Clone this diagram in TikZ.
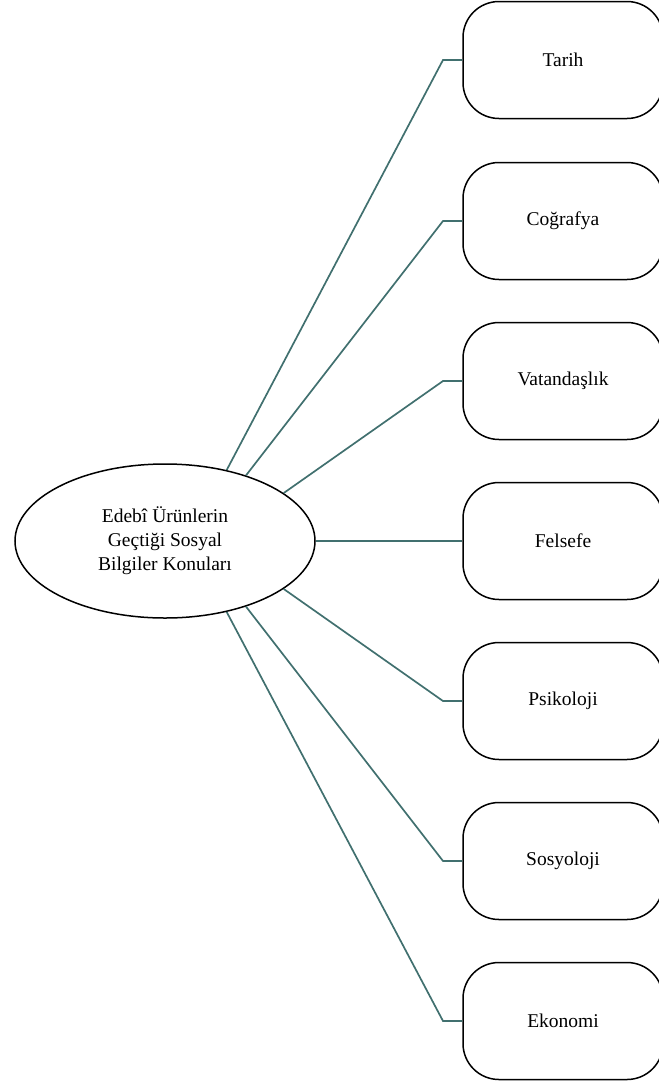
\documentclass[tikz,border=0pt]{standalone}
\usepackage{fontspec}
\setmainfont{Liberation Serif}
\usepackage{tikz}
\usetikzlibrary{shapes.geometric}
\definecolor{hat}{HTML}{41706F}

\begin{document}
\begin{tikzpicture}[x=1pt,y=-1pt,
	konu/.style={draw=black,line width=1.5pt,rounded corners=36pt,minimum width=200pt,minimum height=117pt,inner sep=0pt,font=\fontsize{19.5}{22}\selectfont},
	baglanti/.style={draw=hat,line width=1.7pt}]
	
	\useasboundingbox (0,0) rectangle (659,1085);
	
	\node[shape=ellipse,draw=black,line width=1.5pt,minimum width=300pt,minimum height=154pt,inner sep=0pt,align=center,font=\fontsize{19.5}{24}\selectfont] (merkez) at (165,541) {Edebî Ürünlerin\\Geçtiği Sosyal\\Bilgiler Konuları};
	
	\node[konu] (tarih) at (563,60)     {Tarih};
	\node[konu] (cografya) at (563,221) {Coğrafya};
	\node[konu] (vatandas) at (563,381) {Vatandaşlık};
	\node[konu] (felsefe) at (563,541)  {Felsefe};
	\node[konu] (psikoloji) at (563,701) {Psikoloji};
	\node[konu] (sosyoloji) at (563,861) {Sosyoloji};
	\node[konu] (ekonomi) at (563,1021) {Ekonomi};
	
	\coordinate (k1) at (443,60);
	\coordinate (k2) at (443,221);
	\coordinate (k3) at (443,381);
	\coordinate (k5) at (443,701);
	\coordinate (k6) at (443,861);
	\coordinate (k7) at (443,1021);
	
	\path[baglanti] (merkez.49) -- (k1) -- (tarih);
	\path[baglanti] (merkez.39) -- (k2) -- (cografya);
	\path[baglanti] (merkez.22) -- (k3) -- (vatandas);
	\path[baglanti] (merkez.0) -- (felsefe);
	\path[baglanti] (merkez.-22) -- (k5) -- (psikoloji);
	\path[baglanti] (merkez.-39) -- (k6) -- (sosyoloji);
	\path[baglanti] (merkez.-49) -- (k7) -- (ekonomi);

\end{tikzpicture}
\end{document}
